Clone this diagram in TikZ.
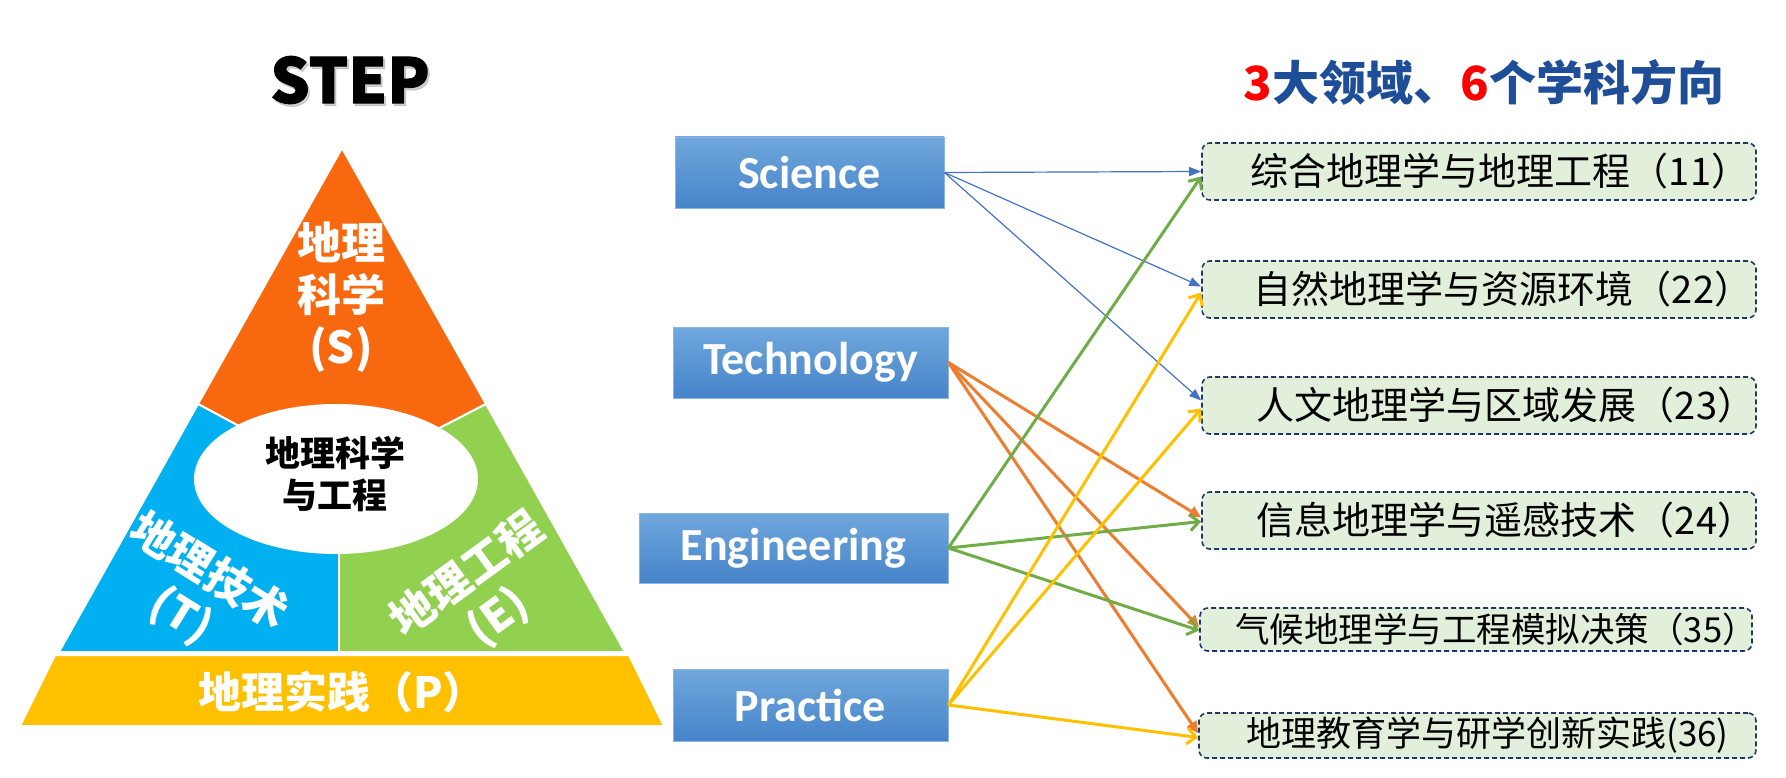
\documentclass[tikz,border=0pt]{standalone}
\usepackage{fontspec}
\setmainfont{Noto Sans CJK SC}
\newfontfamily\calibri{Carlito}
\newfontfamily\stepfont{Noto Sans CJK SC}[BoldFeatures={FakeBold=1.5}]
\usetikzlibrary{arrows.meta,calc,shapes.geometric}

\definecolor{sOrange}{HTML}{F8690F}
\definecolor{tBlue}{HTML}{00B0F0}
\definecolor{eGreen}{HTML}{92D050}
\definecolor{pGold}{HTML}{FFC000}
\definecolor{titleBlue}{HTML}{1F4E99}
\definecolor{titleRed}{HTML}{FF0000}
\definecolor{boxTop}{HTML}{70A8DD}
\definecolor{boxBot}{HTML}{4683C9}
\definecolor{boxEdge}{HTML}{8DB4E2}
\definecolor{fieldFill}{HTML}{E2EFDA}
\definecolor{fieldEdge}{HTML}{1F3864}
\definecolor{arBlue}{HTML}{4472C4}
\definecolor{arOrange}{HTML}{ED7D31}
\definecolor{arGreen}{HTML}{70AD47}
\definecolor{arGold}{HTML}{FFC000}

\newcommand{\fsz}[2]{\fontsize{#1pt}{#2pt}\selectfont}

\begin{document}
\begin{tikzpicture}[x=1pt,y=-1pt,
  seg/.style={draw=white,line width=2pt,line join=round},
  segshadow/.style={fill=black,opacity=0.12},
  pyrtext/.style={text=white,font=\bfseries\fsz{44}{52},align=center,inner sep=0pt},
  stepbox/.style={draw=boxEdge,line width=0.8pt,top color=boxTop,bottom color=boxBot,
     text=white,font=\calibri\bfseries\fsz{46}{50},inner sep=0pt},
  fieldbox/.style={draw=fieldEdge,fill=fieldFill,line width=1.6pt,
     dash pattern=on 5pt off 3pt,rounded corners=8pt,inner sep=0pt},
  fieldtext/.style={font=\fsz{38}{44},text=black,inner sep=0pt},
  lnkBlue/.style={draw=arBlue,line width=1.2pt,-{Triangle[length=12pt,width=9pt]}},
  lnkOrange/.style={draw=arOrange,line width=3pt,-{Triangle[length=12pt,width=11pt]}},
  lnkGreen/.style={draw=arGreen,line width=3pt,-{Straight Barb[length=9pt,width=16pt]}},
  lnkGold/.style={draw=arGold,line width=3pt,-{Straight Barb[length=9pt,width=16pt]}}
]
\useasboundingbox (0,0) rectangle (1786,778);

% ---------- pyramid geometry ----------
\coordinate (A)  at (342,148);
\coordinate (L)  at (198,404);
\coordinate (R)  at (486,404);
\coordinate (C)  at (339,480);
\coordinate (BM) at (339,652);
\coordinate (BL) at (59,652);
\coordinate (BR) at (625,652);
\coordinate (PTL) at (55,655);
\coordinate (PTR) at (629,655);
\coordinate (PBR) at (664,726);
\coordinate (PBL) at (20,726);

% soft shadow
\begin{scope}[shift={(3,4)}]
  \fill[segshadow] (A) -- (BR) -- (BL) -- cycle;
  \fill[segshadow] (PTL) -- (PTR) -- (PBR) -- (PBL) -- cycle;
\end{scope}

\filldraw[seg,fill=sOrange] (A) -- (R) -- (C) -- (L) -- cycle;
\filldraw[seg,fill=tBlue] (L) -- (C) -- (BM) -- (BL) -- cycle;
\filldraw[seg,fill=eGreen] (R) -- (BR) -- (BM) -- (C) -- cycle;
\filldraw[seg,fill=pGold] (PTL) -- (PTR) -- (PBR) -- (PBL) -- cycle;
\node[ellipse,fill=white,minimum width=284pt,minimum height=150pt,inner sep=0pt] (core) at (336,479) {};

% ---------- pyramid texts ----------
\node[pyrtext] (sci) at (341,297) {地理\\科学\\(S)};
\node[pyrtext,rotate=-32] (tec) at (195,594) {地理技术\\(T)};
\node[pyrtext,rotate=36] (eng) at (483,596) {地理工程\\(E)};
\node[inner sep=0pt,align=center,font=\bfseries\fsz{35}{42}] (coretext) at (335,474) {地理科学\\与工程};
\node[text=white,font=\bfseries\fsz{43}{50},inner sep=0pt] (prac) at (342,692) {地理实践（P）};

% ---------- titles ----------
\node[text=black!40,opacity=0.45,font=\stepfont\bfseries\fsz{62}{70},inner sep=0pt] (stepsh) at (352,82.5) {STEP};
\node[font=\stepfont\bfseries\fsz{62}{70},inner sep=0pt] (step) at (350,80) {STEP};
\node[font=\bfseries\fsz{47}{54},inner sep=0pt,text=titleBlue] (title) at (1484,82)
  {\textcolor{titleRed}{3}大领域、\textcolor{titleRed}{6}个学科方向};

% ---------- middle boxes ----------
\node[stepbox,minimum width=269pt,minimum height=71pt] (S) at (809.5,172.5) {Science};
\node[stepbox,minimum width=275pt,minimum height=71pt] (T) at (810.5,362.5) {Technology};
\node[stepbox,minimum width=309pt,minimum height=70pt] (E) at (793.5,548) {Engineering};
\node[stepbox,minimum width=275pt,minimum height=72pt] (P) at (810.5,705) {Practice};

% ---------- right boxes ----------
\node[fieldbox,minimum width=554pt,minimum height=57pt] (b1) at (1479,171.5) {};
\node[fieldbox,minimum width=554pt,minimum height=57pt] (b2) at (1479,289.5) {};
\node[fieldbox,minimum width=554pt,minimum height=57pt] (b3) at (1479,405.5) {};
\node[fieldbox,minimum width=554pt,minimum height=57pt] (b4) at (1479,520.5) {};
\node[fieldbox,minimum width=552pt,minimum height=43pt] (b5) at (1476,629.5) {};
\node[fieldbox,minimum width=557pt,minimum height=45pt] (b6) at (1477.5,735.5) {};

\node[fieldtext] (t1) at ($(b1.center)+(21,0)$) {综合地理学与地理工程（11）};
\node[fieldtext] (t2) at ($(b2.center)+(24,0)$) {自然地理学与资源环境（22）};
\node[fieldtext] (t3) at ($(b3.center)+(27,0)$) {人文地理学与区域发展（23）};
\node[fieldtext] (t4) at ($(b4.center)+(27,0)$) {信息地理学与遥感技术（24）};
\node[fieldtext,font=\fsz{34.5}{40}] (t5) at ($(b5.center)+(20,0)$) {气候地理学与工程模拟决策（35）};
\node[fieldtext,font=\fsz{35}{40}] (t6) at ($(b6.center)+(10,0)$) {地理教育学与研学创新实践(36)};

% ---------- connectors ----------
\draw[lnkBlue] (S.east) -- ($(b1.west)+(0,0)$);
\draw[lnkBlue] (S.east) -- ($(b2.west)+(0,-3)$);
\draw[lnkBlue] (S.east) -- ($(b3.west)+(0,-5)$);

\draw[lnkOrange] (T.east) -- ($(b4.west)+(0,-3)$);
\draw[lnkOrange] (T.east) -- ($(b5.west)+(0,-2)$);
\draw[lnkOrange] (T.east) -- ($(b6.west)+(0,-2)$);

\draw[lnkGreen] (E.east) -- ($(b1.west)+(0,5)$);
\draw[lnkGreen] (E.east) -- ($(b4.west)+(0,1)$);
\draw[lnkGreen] (E.east) -- ($(b5.west)+(0,1)$);

\draw[lnkGold] (P.east) -- ($(b2.west)+(0,3)$);
\draw[lnkGold] (P.east) -- ($(b3.west)+(0,3)$);
\draw[lnkGold] (P.east) -- ($(b6.west)+(0,2)$);

\end{tikzpicture}
\end{document}
